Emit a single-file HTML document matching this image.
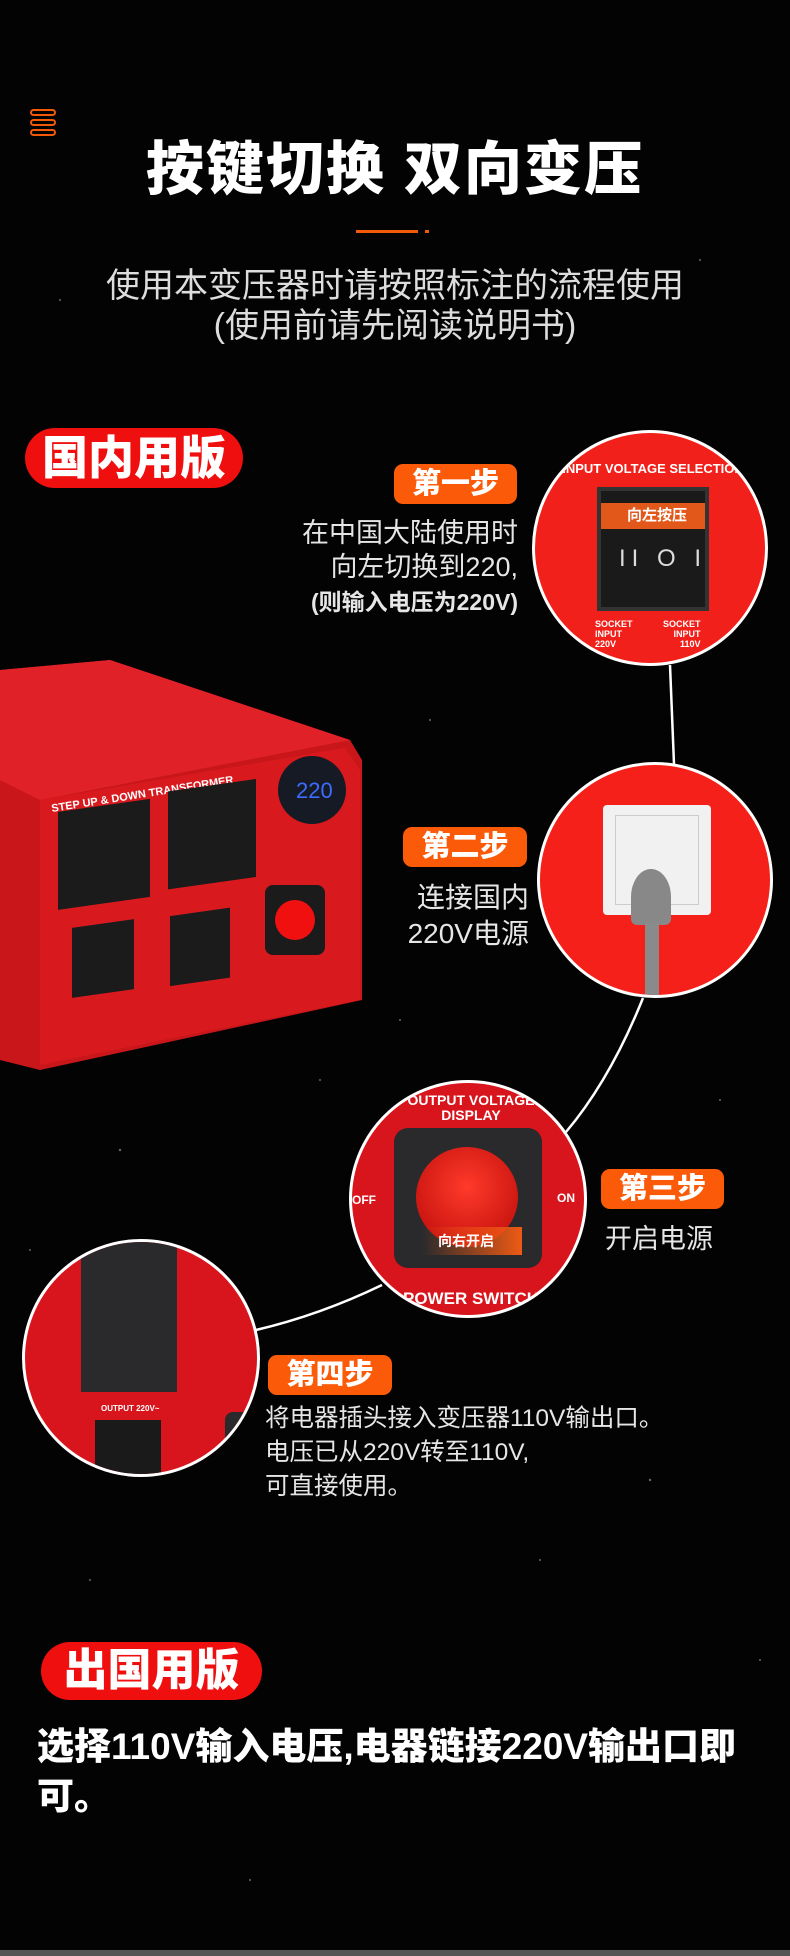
<!DOCTYPE html>
<html><head><meta charset="utf-8"><style>
*{margin:0;padding:0;box-sizing:border-box}
body{width:790px;height:1956px;background:#030303;position:relative;overflow:hidden;font-family:"Liberation Sans","Noto Sans CJK SC",sans-serif;color:#fff}
.a{position:absolute}
.badge{position:absolute;background:#fb5a08;border-radius:9px;color:#fff;font-weight:900;font-size:29px;text-align:center;line-height:40px}
.pill{position:absolute;background:#f00f0f;border-radius:30px;color:#fff;font-weight:900;text-align:center}
.txt{position:absolute;color:#e6e6e6;font-size:26px;line-height:34px}
.circ{position:absolute;border-radius:50%;border:3px solid #fff;overflow:hidden;background:#f2201a}
</style></head><body>
<svg class="a" style="left:0;top:0" width="790" height="1956">
<g fill="#666">
<circle cx="60" cy="300" r="1"/><circle cx="210" cy="450" r="1"/><circle cx="700" cy="260" r="1"/><circle cx="430" cy="720" r="1"/><circle cx="120" cy="1150" r="1.2"/><circle cx="320" cy="1080" r="1"/><circle cx="720" cy="1100" r="1"/><circle cx="540" cy="1560" r="1"/><circle cx="90" cy="1580" r="1"/><circle cx="650" cy="1480" r="1.2"/><circle cx="250" cy="1880" r="1"/><circle cx="760" cy="1660" r="1"/><circle cx="400" cy="1020" r="1"/><circle cx="470" cy="860" r="1"/><circle cx="30" cy="1250" r="1"/>
</g>
<path d="M670 665 L674 764" stroke="#fff" stroke-width="2.5" fill="none"/>
<path d="M643 998 Q610 1080 566 1132" stroke="#fff" stroke-width="2.5" fill="none"/>
<path d="M382 1285 Q320 1315 256 1330" stroke="#fff" stroke-width="2.5" fill="none"/>
<rect x="0" y="1950" width="790" height="6" fill="#555"/>
</svg>
<div class="a" style="left:30px;top:109px;width:26px;height:7px;border:2px solid #f25a0a;border-radius:4px"></div>
<div class="a" style="left:30px;top:119px;width:26px;height:7px;border:2px solid #f25a0a;border-radius:4px"></div>
<div class="a" style="left:30px;top:129px;width:26px;height:7px;border:2px solid #f25a0a;border-radius:4px"></div>
<div class="a" style="left:0;top:136px;width:790px;text-align:center;font-size:58px;font-weight:900;letter-spacing:2px;line-height:68px">按键切换 双向变压</div>
<div class="a" style="left:356px;top:230px;width:62px;height:3px;background:#f25a0a"></div>
<div class="a" style="left:425px;top:230px;width:4px;height:3px;background:#f25a0a"></div>
<div class="a" style="left:0;top:266px;width:790px;text-align:center;font-size:34px;line-height:40px;color:#ddd">使用本变压器时请按照标注的流程使用<br>(使用前请先阅读说明书)</div>
<div class="pill" style="left:25px;top:428px;width:218px;height:60px;font-size:46px;line-height:60px">国内用版</div>
<div class="badge" style="left:394px;top:464px;width:123px">第一步</div>
<div class="txt" style="left:240px;top:516px;width:278px;text-align:right;font-size:27px">在中国大陆使用时<br>向左切换到220,<br><b style="font-size:23px">(则输入电压为220V)</b></div>
<div class="circ" style="left:532px;top:430px;width:236px;height:236px">
 <div class="a" style="left:0;top:28px;width:236px;text-align:center;font-size:13px;font-weight:bold">INPUT VOLTAGE SELECTION</div>
 <div class="a" style="left:62px;top:54px;width:112px;height:124px;background:#1a1a1a;border:4px solid #333"></div>
 <div class="a" style="left:66px;top:70px;width:104px;height:26px;background:#e2581a;font-size:15px;font-weight:bold;line-height:26px;padding-left:26px">向左按压</div>
 <div class="a" style="left:84px;top:112px;font-size:24px;color:#ddd;letter-spacing:6px">II O I</div>
 <div class="a" style="left:60px;top:186px;font-size:9px;font-weight:bold;line-height:10px">SOCKET<br>INPUT<br>220V</div>
 <div class="a" style="left:128px;top:186px;font-size:9px;font-weight:bold;line-height:10px;text-align:right">SOCKET<br>INPUT<br>110V</div>
</div>
<svg class="a" style="left:0;top:660px" width="365" height="410">
 <path d="M0 10 L110 0 L350 80 L362 100 L362 340 L40 410 L0 400Z" fill="#c8161a"/>
 <path d="M0 10 L110 0 L350 80 L40 140 L0 120Z" fill="#e02228"/>
 <path d="M40 140 L345 88 L360 110 L360 340 L40 405Z" fill="#d81a1e"/>
 <text x="52" y="152" fill="#fff" font-size="11" font-weight="bold" transform="rotate(-9 52 152)" font-family="Liberation Sans">STEP UP &amp; DOWN TRANSFORMER</text>
 <rect x="58" y="160" width="92" height="98" fill="#1b1b1b" transform="skewY(-8)"/>
 <rect x="168" y="155" width="88" height="98" fill="#1b1b1b" transform="skewY(-8)"/>
 <rect x="72" y="278" width="62" height="70" fill="#1b1b1b" transform="skewY(-8)"/>
 <rect x="170" y="280" width="60" height="70" fill="#1b1b1b" transform="skewY(-8)"/>
 <circle cx="312" cy="130" r="34" fill="#151a25"/>
 <text x="296" y="138" fill="#3c6cff" font-size="22" font-family="Liberation Sans">220</text>
 <rect x="265" y="225" width="60" height="70" rx="8" fill="#1b1b1b"/>
 <circle cx="295" cy="260" r="20" fill="#f01010"/>
</svg>
<div class="badge" style="left:403px;top:827px;width:124px">第二步</div>
<div class="txt" style="left:370px;top:880px;width:159px;text-align:right;font-size:28px;line-height:36px">连接国内<br>220V电源</div>
<div class="circ" style="left:537px;top:762px;width:236px;height:236px;background:#f5201a">
 <div class="a" style="left:63px;top:40px;width:108px;height:110px;background:#f1f1f1;border-radius:4px"></div>
 <div class="a" style="left:75px;top:50px;width:84px;height:90px;border:1px solid #ccc"></div>
 <div class="a" style="left:91px;top:104px;width:40px;height:56px;background:#888;border-radius:50% 50% 6px 6px"></div>
 <div class="a" style="left:105px;top:156px;width:14px;height:80px;background:#8a8a8a"></div>
</div>
<div class="circ" style="left:349px;top:1080px;width:238px;height:238px;background:#d8141c">
 <div class="a" style="left:0;top:10px;width:238px;text-align:center;font-size:14px;font-weight:bold;line-height:15px">OUTPUT VOLTAGE<br>DISPLAY</div>
 <div class="a" style="left:42px;top:45px;width:148px;height:140px;background:#2a2a2c;border-radius:14px"></div>
 <div class="a" style="left:64px;top:64px;width:102px;height:100px;background:radial-gradient(circle at 50% 40%,#ff3a2a,#b80808);border-radius:50%"></div>
 <div class="a" style="left:70px;top:144px;width:100px;height:28px;background:linear-gradient(90deg,rgba(240,90,20,0),#ee5a14);font-size:14px;font-weight:bold;line-height:28px;padding-left:16px">向右开启</div>
 <div class="a" style="left:0;top:110px;font-size:12px;font-weight:bold">OFF</div>
 <div class="a" style="left:205px;top:108px;font-size:12px;font-weight:bold">ON</div>
 <div class="a" style="left:0;top:206px;width:238px;text-align:center;font-size:17px;font-weight:bold">POWER SWITCH</div>
</div>
<div class="badge" style="left:601px;top:1169px;width:123px">第三步</div>
<div class="txt" style="left:605px;top:1222px;font-size:27px">开启电源</div>
<div class="circ" style="left:22px;top:1239px;width:238px;height:238px;background:#d8141c">
 <div class="a" style="left:56px;top:0;width:96px;height:150px;background:#2a2a2c"></div>
 <div class="a" style="left:70px;top:178px;width:66px;height:96px;background:#1a1a1a"></div>
 <div class="a" style="left:76px;top:162px;font-size:8px;font-weight:bold">OUTPUT 220V~</div>
 <div class="a" style="left:78px;top:290px;font-size:8px;font-weight:bold">OUTPUT 110V~</div>
 <div class="a" style="left:200px;top:170px;width:40px;height:120px;background:#2a2a2c;border-radius:8px"></div>
</div>
<div class="badge" style="left:268px;top:1355px;width:124px">第四步</div>
<div class="txt" style="left:265px;top:1402px;font-size:24.5px;line-height:34px">将电器插头接入变压器110V输出口。<br>电压已从220V转至110V,<br>可直接使用。</div>
<div class="pill" style="left:41px;top:1642px;width:221px;height:58px;font-size:44px;line-height:58px">出国用版</div>
<div class="a" style="left:37px;top:1722px;width:740px;font-size:37px;font-weight:900;line-height:50px">选择110V输入电压,电器链接220V输出口即可。</div>
</body></html>
